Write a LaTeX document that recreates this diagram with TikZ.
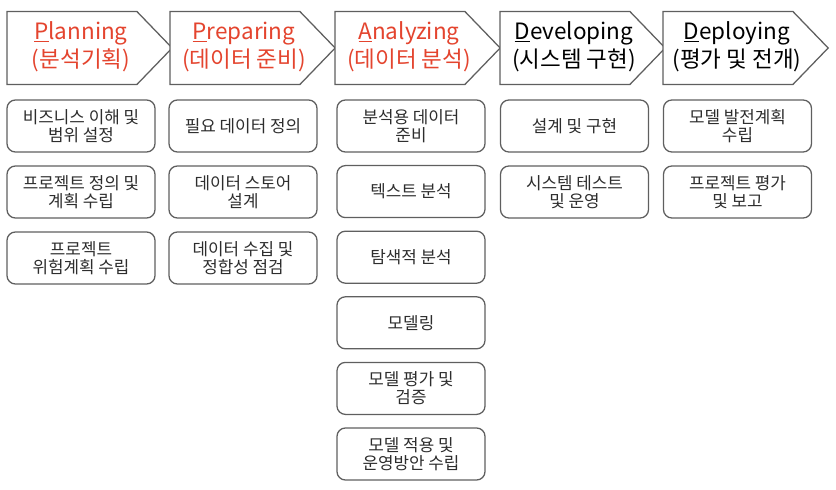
\documentclass[tikz,border=0pt]{standalone}
\usepackage{fontspec}
\setmainfont{Noto Sans CJK KR}
\usetikzlibrary{shapes.symbols}
\definecolor{phasered}{RGB}{228,68,46}
\definecolor{lineGray}{RGB}{95,95,95}
\definecolor{textGray}{RGB}{45,45,45}
% phase title: two centred lines, moved a little right of the body centre
\newcommand{\phasetxt}[2]{\makebox[0pt]{\hspace*{0.45cm}\begin{tabular}{@{}c@{}}#1\\#2\end{tabular}}}

\begin{document}
\begin{tikzpicture}[x=0.025cm, y=-0.025cm,
    phase/.style={signal, signal to=east, signal pointer angle=92, draw=lineGray, line width=0.9pt,
        minimum width=4.125cm, minimum height=1.825cm, inner sep=0pt,
        font=\fontsize{16}{19.5}\selectfont, fill=white},
    task/.style={draw=lineGray, line width=0.9pt, rounded corners=6pt, minimum width=3.7cm,
        minimum height=1.3cm, align=center, text=textGray, font=\fontsize{12}{13}\selectfont}]
    \useasboundingbox (0,0) rectangle (836,490);
    % Phases
    \node[phase, text=phasered] (plan) at (72,48) {\phasetxt{\underline{P}lanning}{(분석기획)}};
    \node[phase, text=phasered] (prep) at (235,48) {\phasetxt{\underline{P}reparing}{(데이터 준비)}};
    \node[phase, text=phasered] (anal) at (400,48) {\phasetxt{\underline{A}nalyzing}{(데이터 분석)}};
    \node[phase] (dev) at (565,48) {\phasetxt{\underline{D}eveloping}{(시스템 구현)}};
    \node[phase] (depl) at (728,48) {\phasetxt{\underline{D}eploying}{(평가 및 전개)}};
    % Tasks of each phase
    \foreach \txt [count=\i] in {{비즈니스 이해 및\\범위 설정}, {프로젝트 정의 및\\계획 수립}, {프로젝트\\위험계획 수립}} {
        \node[task] (plan\i) at (81,126+66*\i-66) {\txt};
    }
    \foreach \txt [count=\i] in {{필요 데이터 정의}, {데이터 스토어\\설계}, {데이터 수집 및\\정합성 점검}} {
        \node[task] (prep\i) at (243,126+66*\i-66) {\txt};
    }
    \foreach \txt [count=\i] in {{분석용 데이터\\준비}, {텍스트 분석}, {탐색적 분석}, {모델링}, {모델 평가 및\\검증}, {모델 적용 및\\운영방안 수립}} {
        \node[task] (anal\i) at (411,126+65.6*\i-65.6) {\txt};
    }
    \foreach \txt [count=\i] in {{설계 및 구현}, {시스템 테스트\\및 운영}} {
        \node[task] (dev\i) at (574.5,126+66*\i-66) {\txt};
    }
    \foreach \txt [count=\i] in {{모델 발전계획\\수립}, {프로젝트 평가\\및 보고}} {
        \node[task] (depl\i) at (737.5,126+66*\i-66) {\txt};
    }
\end{tikzpicture}
\end{document}
